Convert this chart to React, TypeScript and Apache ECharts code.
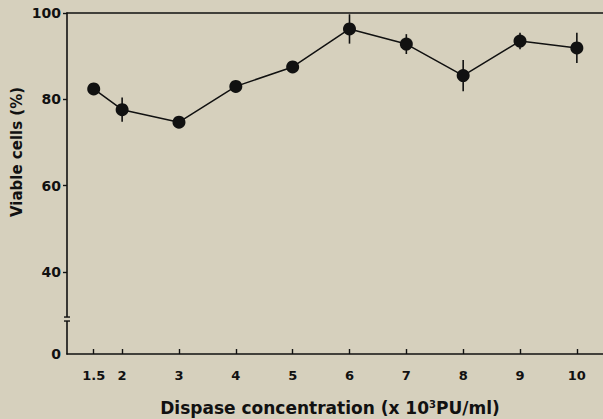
import React, { useEffect, useRef } from "react";
import * as echarts from "echarts";

const concentrations = [1.5, 2, 3, 4, 5, 6, 7, 8, 9, 10];
const viable = [82.4, 77.6, 74.7, 83.0, 87.5, 96.3, 92.8, 85.5, 93.5, 91.9];
const errors = [0, 2.8, 0, 0, 0, 3.4, 2.3, 3.6, 1.9, 3.5];
const yTickValues = [40, 60, 80, 100];
const yBase = 21; // axis bottom, labelled "0" (broken axis)
const yLabelValues = [yBase, 40, 60, 80, 100];

const BG = "#d6d0bd";
const INK = "#111111";
const FONT = "'DejaVu Sans', 'Liberation Sans', Arial, sans-serif";

export default function App() {
  const ref = useRef<HTMLDivElement>(null);
  useEffect(() => {
    if (!ref.current) return;
    const chart = echarts.init(ref.current, null, { renderer: "svg" });
    const errData = concentrations
      .map((c, i) => [c, viable[i] - errors[i], viable[i] + errors[i]])
      .filter((d, i) => errors[i] > 0);
    chart.setOption({
      animation: false,
      backgroundColor: BG,
      grid: { left: 67, right: 0, top: 13, bottom: 65 },
      xAxis: [
        {
          type: "value",
          min: 1.03,
          max: 10.46,
          splitLine: { show: false },
          axisLine: { show: true, lineStyle: { color: INK, width: 1.6 } },
          axisTick: {
            show: true,
            inside: true,
            length: 5,
            customValues: concentrations,
            lineStyle: { color: INK, width: 1.4 },
          },
          axisLabel: {
            customValues: concentrations,
            formatter: (v: number) => String(v),
            color: INK,
            fontFamily: FONT,
            fontWeight: "bold",
            fontSize: 13,
            margin: 15,
          },
        },
        {
          type: "value",
          position: "top",
          min: 1.03,
          max: 10.46,
          splitLine: { show: false },
          axisLine: { show: true, lineStyle: { color: INK, width: 1.6 } },
          axisTick: { show: false },
          axisLabel: { show: false },
        },
      ],
      yAxis: {
        type: "value",
        min: yBase,
        max: 100,
        splitLine: { show: false },
        axisLine: { show: true, lineStyle: { color: INK, width: 1.6 } },
        axisTick: {
          show: true,
          length: 4,
          customValues: yTickValues,
          lineStyle: { color: INK, width: 1.4 },
        },
        axisLabel: {
          customValues: yLabelValues,
          formatter: (v: number) => (v === yBase ? "0" : String(v)),
          color: INK,
          fontFamily: FONT,
          fontWeight: "bold",
          fontSize: 14,
          margin: 6,
        },
      },
      series: [
        {
          type: "custom",
          z: 1,
          renderItem: (params: any, api: any) => {
            const x = api.value(0);
            const lo = api.coord([x, api.value(1)]);
            const hi = api.coord([x, api.value(2)]);
            return {
              type: "line",
              shape: { x1: lo[0], y1: lo[1], x2: hi[0], y2: hi[1] },
              style: { stroke: INK, lineWidth: 1.6 },
            };
          },
          data: errData,
        },
        {
          type: "line",
          z: 2,
          data: concentrations.map((c, i) => [c, viable[i]]),
          symbol: "circle",
          symbolSize: 13,
          lineStyle: { color: INK, width: 1.5 },
          itemStyle: { color: INK },
        },
      ],
      graphic: [
        {
          id: "ytitle",
          type: "text",
          x: 17,
          y: 152,
          rotation: Math.PI / 2,
          style: {
            text: "Viable cells (%)",
            fill: INK,
            font: `bold 15px ${FONT}`,
            align: "center",
            verticalAlign: "middle",
          },
        },
        {
          id: "xtitle",
          type: "text",
          x: 330,
          y: 408,
          style: {
            text: "{a|Dispase concentration (x 10}{s|3}{a|PU/ml)}",
            align: "center",
            verticalAlign: "middle",
            rich: {
              a: { fill: INK, font: `bold 17px ${FONT}` },
              s: { fill: INK, font: `bold 10px ${FONT}`, verticalAlign: "top", padding: [0, 0, 8, 0] },
            },
          },
        },
      ],
    });
    const axisX = 67;
    const yb = chart.convertToPixel({ yAxisIndex: 0 }, 29.1) as number;
    chart.setOption({
      graphic: [
        {
          id: "brkgap",
          type: "rect",
          shape: { x: axisX - 2, y: yb - 2, width: 4, height: 4 },
          style: { fill: BG },
          z: 100,
        },
        {
          id: "brk1",
          type: "line",
          shape: { x1: axisX - 3, y1: yb - 2, x2: axisX + 3, y2: yb - 2 },
          style: { stroke: INK, lineWidth: 1.4 },
          z: 101,
        },
        {
          id: "brk2",
          type: "line",
          shape: { x1: axisX - 3, y1: yb + 2, x2: axisX + 3, y2: yb + 2 },
          style: { stroke: INK, lineWidth: 1.4 },
          z: 101,
        },
      ],
    });
    return () => chart.dispose();
  }, []);
  return (
    <div
      ref={ref}
      style={{ position: "absolute", left: 0, top: 0, width: 603, height: 419 }}
    />
  );
}
